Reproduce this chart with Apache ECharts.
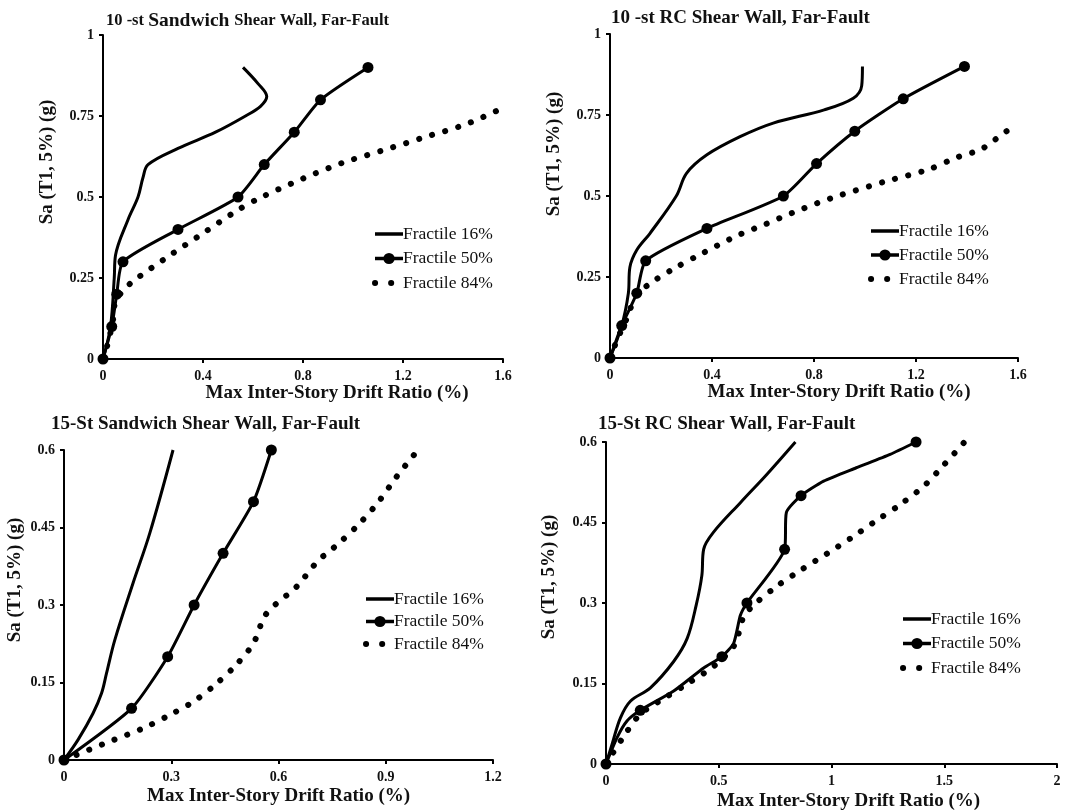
<!DOCTYPE html>
<html>
<head>
<meta charset="utf-8">
<title>Fractile IDA curves</title>
<script src="https://cdn.jsdelivr.net/npm/echarts@6/dist/echarts.min.js"></script>
<style>
  html, body { margin: 0; padding: 0; background: #fff; }
  #chart { width: 1081px; height: 812px; }
</style>
</head>
<body>
<div id="chart"></div>
<script>
// ------------------------------------------------------------
// 数据: [drift ratio (%), Sa (g)]
// ------------------------------------------------------------
const seriesNames = ['Fractile 16%', 'Fractile 50%', 'Fractile 84%']

// 10-st sandwich
const sw10Frac16 = [[0, 0], [0.03, 0.1], [0.045, 0.25], [0.05, 0.32], [0.1, 0.43], [0.14, 0.5], [0.16, 0.56], [0.18, 0.6], [0.3, 0.65], [0.45, 0.7], [0.57, 0.75], [0.63, 0.78], [0.655, 0.81], [0.62, 0.85], [0.56, 0.9]]
const sw10Frac50 = [[0, 0], [0.035, 0.1], [0.055, 0.2], [0.08, 0.3], [0.3, 0.4], [0.54, 0.5], [0.645, 0.6], [0.765, 0.7], [0.87, 0.8], [1.06, 0.9]]
const sw10Frac84 = [[0, 0], [0.02, 0.05], [0.04, 0.12], [0.05, 0.18], [0.08, 0.21], [0.12, 0.24], [0.26, 0.316], [0.4, 0.388], [0.54, 0.46], [0.63, 0.498], [0.8, 0.557], [0.96, 0.606], [1.12, 0.644], [1.28, 0.683], [1.45, 0.724], [1.6, 0.775]]

// 10-st RC
const rc10Frac16 = [[0, 0], [0.046, 0.1], [0.072, 0.2], [0.078, 0.28], [0.105, 0.333], [0.157, 0.385], [0.26, 0.5], [0.3, 0.57], [0.38, 0.627], [0.51, 0.683], [0.64, 0.725], [0.84, 0.766], [0.954, 0.802], [0.987, 0.84], [0.99, 0.9]]
const rc10Frac50 = [[0, 0], [0.046, 0.1], [0.105, 0.2], [0.14, 0.3], [0.38, 0.4], [0.68, 0.5], [0.81, 0.6], [0.96, 0.7], [1.15, 0.8], [1.39, 0.9]]
const rc10Frac84 = [[0, 0], [0.03, 0.06], [0.07, 0.13], [0.1, 0.19], [0.157, 0.23], [0.255, 0.278], [0.35, 0.318], [0.5, 0.378], [0.61, 0.413], [0.715, 0.448], [0.87, 0.494], [1.085, 0.546], [1.25, 0.582], [1.353, 0.617], [1.457, 0.645], [1.555, 0.7], [1.6, 0.717]]

// 15-st sandwich
const sw15Frac16 = [[0, 0], [0.04, 0.04], [0.081, 0.09], [0.105, 0.129], [0.119, 0.168], [0.142, 0.232], [0.193, 0.342], [0.24, 0.439], [0.305, 0.6]]
const sw15Frac50 = [[0, 0], [0.189, 0.1], [0.29, 0.2], [0.364, 0.3], [0.445, 0.4], [0.53, 0.5], [0.58, 0.6]]
const sw15Frac84 = [[0, 0], [0.11, 0.031], [0.22, 0.061], [0.29, 0.085], [0.36, 0.112], [0.42, 0.144], [0.48, 0.183], [0.53, 0.226], [0.56, 0.277], [0.59, 0.3], [0.65, 0.335], [0.71, 0.385], [0.77, 0.42], [0.83, 0.46], [0.88, 0.5], [0.93, 0.548], [0.99, 0.6]]

// 15-st RC
const rc15Frac16 = [[0, 0], [0.027, 0.037], [0.064, 0.086], [0.108, 0.117], [0.197, 0.142], [0.3, 0.191], [0.36, 0.234], [0.4, 0.296], [0.425, 0.351], [0.433, 0.4], [0.477, 0.432], [0.596, 0.487], [0.714, 0.54], [0.84, 0.6]]
const rc15Frac50 = [[0, 0], [0.049, 0.049], [0.093, 0.08], [0.152, 0.1], [0.3, 0.136], [0.433, 0.179], [0.514, 0.2], [0.566, 0.225], [0.596, 0.277], [0.625, 0.3], [0.792, 0.4], [0.8, 0.469], [0.865, 0.5], [0.965, 0.527], [1.11, 0.552], [1.26, 0.577], [1.375, 0.6]]
const rc15Frac84 = [[0, 0], [0.07, 0.046], [0.15, 0.092], [0.26, 0.123], [0.37, 0.152], [0.48, 0.183], [0.57, 0.222], [0.61, 0.274], [0.66, 0.298], [0.76, 0.332], [0.87, 0.363], [0.98, 0.392], [1.09, 0.422], [1.19, 0.451], [1.3, 0.482], [1.41, 0.518], [1.5, 0.558], [1.59, 0.6]]

// 坐标轴范围 [min, max, interval]
const xRanges = [[0, 1.6, 0.4], [0, 1.6, 0.4], [0, 1.2, 0.3], [0, 2, 0.5]]
const yRanges = [[0, 1, 0.25], [0, 1, 0.25], [0, 0.6, 0.15], [0, 0.6, 0.15]]

const serif = 'Liberation Serif'
const xName = 'Max Inter-Story Drift Ratio (%)'
const yName = 'Sa (T1, 5%) (g)'

// 每个面板的布局 (name 的 pad 用来沿坐标轴方向平移标题)
const grids = [
  { left: 103, top: 35, width: 400, height: 324 },
  { left: 610, top: 34, width: 408, height: 324 },
  { left: 64, top: 450, width: 429, height: 310 },
  { left: 606, top: 442, width: 451, height: 325 }
]
const xNameLayout = [{ gap: 20, pad: 68 }, { gap: 20, pad: 50 }, { gap: 27, pad: 0 }, { gap: 28, pad: 34 }]
const yNameLayout = [{ gap: 46, pad: 70 }, { gap: 46, pad: 84 }, { gap: 39, pad: 50 }, { gap: 47, pad: 52 }]
const legendPos = [{ left: 372, top: 225, gap: 6.5 }, { left: 868, top: 222, gap: 6 }, { left: 363, top: 590, gap: 4.5 }, { left: 900, top: 610, gap: 6.5 }]

const panels = [
  [sw10Frac16, sw10Frac50, sw10Frac84],
  [rc10Frac16, rc10Frac50, rc10Frac84],
  [sw15Frac16, sw15Frac50, sw15Frac84],
  [rc15Frac16, rc15Frac50, rc15Frac84]
]

const axisCommon = {
  axisLine: { lineStyle: { color: '#000', width: 2 } },
  axisTick: { show: true, length: 4, lineStyle: { color: '#000', width: 2 } },
  axisLabel: { color: '#111', fontFamily: serif, fontWeight: 'bold', fontSize: 14 },
  splitLine: { show: false },
  nameLocation: 'middle'
}

const xAxis = xRanges.map((r, i) => Object.assign({}, axisCommon, {
  type: 'value',
  gridIndex: i,
  min: r[0],
  max: r[1],
  interval: r[2],
  name: xName,
  nameGap: xNameLayout[i].gap,
  nameTextStyle: { color: '#111', fontFamily: serif, fontWeight: 'bold', fontSize: 19, padding: [0, 0, 0, xNameLayout[i].pad], verticalAlign: 'top' },
  axisLabel: Object.assign({}, axisCommon.axisLabel, { margin: 10 })
}))

const yAxis = yRanges.map((r, i) => Object.assign({}, axisCommon, {
  type: 'value',
  gridIndex: i,
  min: r[0],
  max: r[1],
  interval: r[2],
  name: yName,
  nameGap: yNameLayout[i].gap,
  nameTextStyle: { color: '#111', fontFamily: serif, fontWeight: 'bold', fontSize: 19, padding: [0, 0, 0, yNameLayout[i].pad] },
  axisLabel: Object.assign({}, axisCommon.axisLabel, { margin: 9 })
}))

// 50% 曲线只在 Sa 为 0.1 的整数倍处画圆点
function withMarkers (points) {
  return points.map(p => {
    const k = p[1] * 10
    return Math.abs(k - Math.round(k)) < 1e-6 ? { value: p } : { value: p, symbol: 'none' }
  })
}

const series = []
panels.forEach((p, i) => {
  series.push({
    name: seriesNames[0], type: 'line', xAxisIndex: i, yAxisIndex: i,
    data: p[0], symbol: 'none', smooth: 0.35,
    lineStyle: { color: '#000', width: 3 }, itemStyle: { color: '#000' }
  })
  series.push({
    name: seriesNames[1], type: 'line', xAxisIndex: i, yAxisIndex: i,
    data: withMarkers(p[1]), symbol: 'circle', symbolSize: 11, smooth: 0.2,
    lineStyle: { color: '#000', width: 3 }, itemStyle: { color: '#000' }
  })
  series.push({
    name: seriesNames[2], type: 'line', xAxisIndex: i, yAxisIndex: i,
    data: p[2], symbol: 'none', smooth: 0.3,
    lineStyle: { color: '#000', width: 6, type: [0.1, 13.5], cap: 'round' }, itemStyle: { color: '#000' }
  })
})

const hiddenSymbol = { opacity: 0 }
const legend = legendPos.map(l => ({
  orient: 'vertical',
  left: l.left,
  top: l.top,
  padding: 0,
  itemWidth: 28,
  itemHeight: 14,
  itemGap: l.gap,
  selectedMode: false,
  textStyle: { color: '#111', fontFamily: serif, fontSize: 17.5, padding: [0, 0, 0, -5] },
  data: [
    { name: seriesNames[0], itemStyle: hiddenSymbol, lineStyle: { width: 3.5 } },
    { name: seriesNames[1], lineStyle: { width: 3.5 } },
    { name: seriesNames[2], itemStyle: hiddenSymbol, lineStyle: { type: [0.1, 16], width: 6, cap: 'round' } }
  ]
}))

const titleStyle = { color: '#111', fontFamily: serif, fontWeight: 'bold', fontSize: 19 }
const title = [
  {
    text: '{s|10 -st }{b|Sandwich }{s|Shear Wall, Far-Fault}',
    left: 101, top: 6,
    textStyle: {
      rich: {
        s: { color: '#111', fontFamily: serif, fontWeight: 'bold', fontSize: 16.5 },
        b: { color: '#111', fontFamily: serif, fontWeight: 'bold', fontSize: 19.5 }
      }
    }
  },
  { text: '10 -st RC Shear Wall, Far-Fault', left: 606, top: 4, textStyle: titleStyle },
  { text: '15-St Sandwich Shear Wall, Far-Fault', left: 46, top: 410, textStyle: titleStyle },
  { text: '15-St RC Shear Wall, Far-Fault', left: 593, top: 410, textStyle: titleStyle }
]

const chart = echarts.init(document.getElementById('chart'))
chart.setOption({
  backgroundColor: '#fff',
  animation: false,
  title: title,
  legend: legend,
  grid: grids,
  xAxis: xAxis,
  yAxis: yAxis,
  series: series
})

window.addEventListener('resize', () => chart.resize())
</script>
</body>
</html>
